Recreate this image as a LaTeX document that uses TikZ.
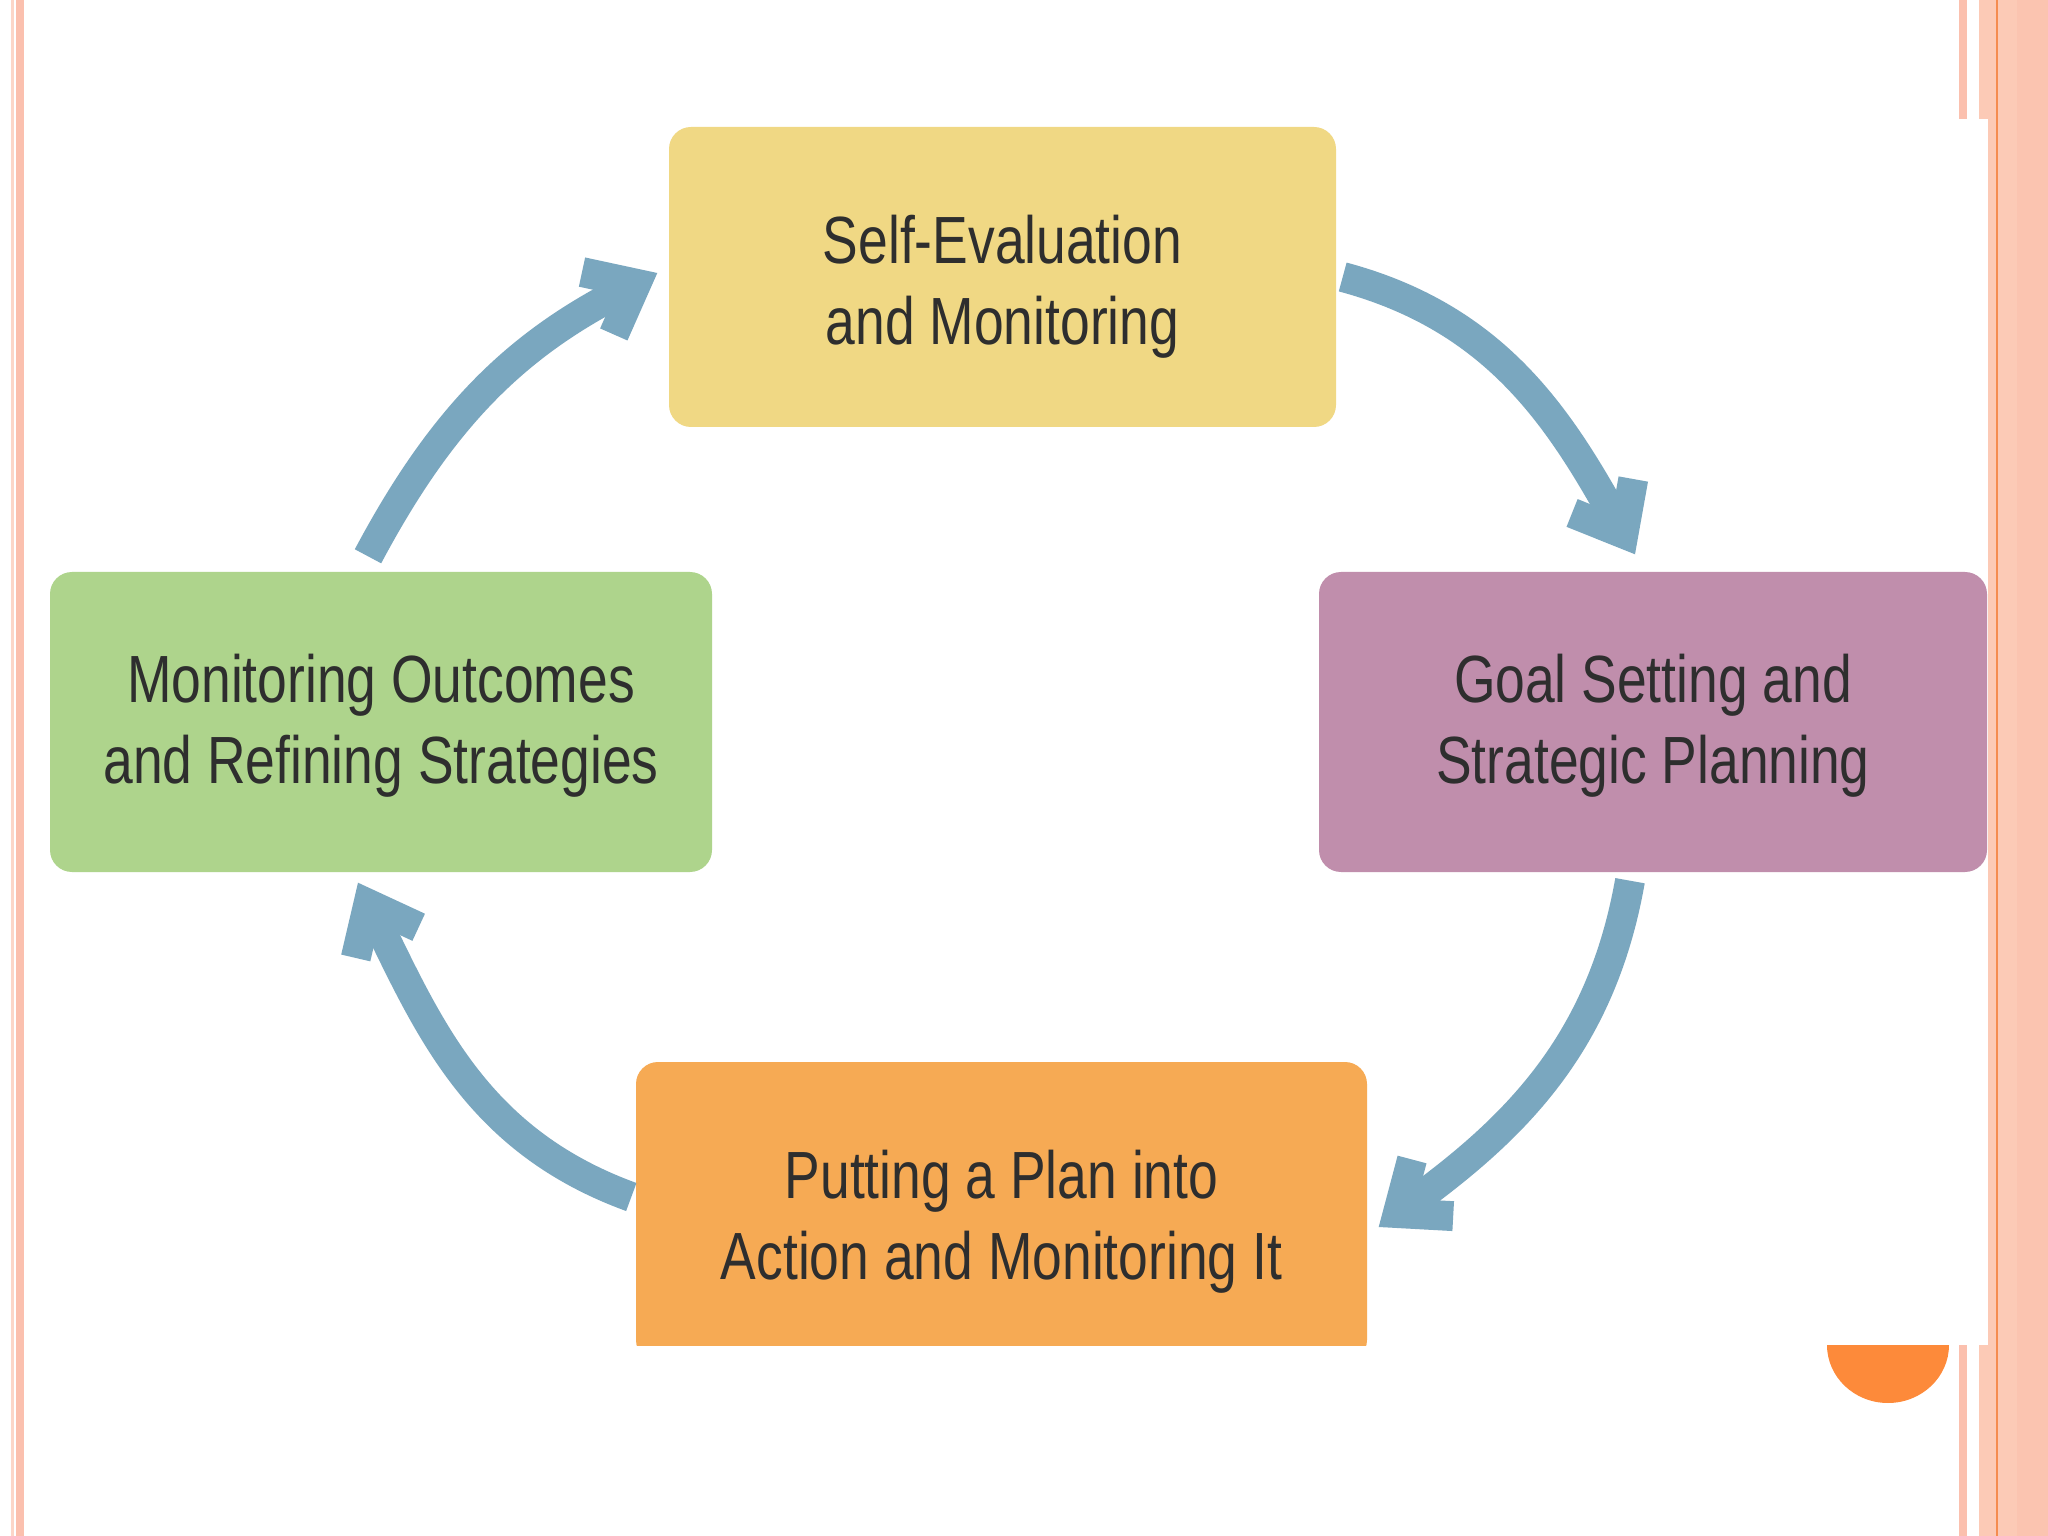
\documentclass[tikz,border=0pt]{standalone}
\usepackage{fontspec}
\usepackage{tikz}
\usetikzlibrary{arrows.meta,positioning}
\newfontfamily\boxfont[FakeStretch=0.8]{Liberation Sans}
\definecolor{cycleblue}{RGB}{122,167,191}
\definecolor{selfyellow}{RGB}{240,216,132}
\definecolor{goalmauve}{RGB}{192,142,172}
\definecolor{monitorgreen}{RGB}{174,212,140}
\definecolor{actionorange}{RGB}{246,170,84}
\definecolor{stripepink}{RGB}{251,192,174}
\definecolor{stripelight}{RGB}{252,214,200}
\definecolor{bandpeach}{RGB}{252,202,182}
\definecolor{bandpeachdark}{RGB}{251,196,176}
\definecolor{bandline}{RGB}{245,140,80}
\definecolor{dotorange}{RGB}{253,138,58}

\begin{document}
\begin{tikzpicture}[
  stage/.style={rectangle, rounded corners=2.2mm, minimum height=3cm, align=center, font=\boxfont\fontsize{19}{23}\selectfont, text=black!82, text height=35pt, text depth=0pt},
  cyc/.style={-{Straight Barb[length=4.3mm, width=7mm]}, line width=8.5pt, draw=cycleblue},
]
  \useasboundingbox (0,0) rectangle (20.48,-15.36);

  % slide frame
  \fill[stripelight] (0.11,0) rectangle (0.14,-15.36);
  \fill[stripepink] (0.16,0) rectangle (0.24,-15.36);
  \fill[stripepink] (19.59,0) rectangle (19.67,-15.36);
  \fill[bandpeach] (19.79,0) rectangle (20.48,-15.36);
  \fill[bandpeachdark] (20.17,0) rectangle (20.48,-15.36);
  \fill[bandline] (19.96,0) rectangle (19.98,-15.36);
  \fill[dotorange] (18.27,-13.45) arc (180:360:0.61 and 0.58) -- cycle;

  % pasted picture
  \fill[white] (0.3,-1.19) rectangle (19.88,-13.45);

  \begin{scope}
    \clip (0.3,-1.19) rectangle (19.88,-13.45);
    \node[stage, fill=selfyellow, minimum width=6.67cm, text height=38.5pt] (self) at (10.025,-2.77) {Self-Evaluation\\and Monitoring};
    \node[stage, fill=goalmauve, minimum width=6.68cm] (goal) at (16.53,-7.22) {Goal Setting and\\Strategic Planning};
    \node[stage, fill=actionorange, minimum width=7.31cm, text height=38.5pt] (action) at (10.015,-12.12) {Putting a Plan into\\Action and Monitoring It};
    \node[stage, fill=monitorgreen, minimum width=6.62cm] (monitor) at (3.81,-7.22) {Monitoring Outcomes\\and Refining Strategies};

    \draw[cyc] ([xshift=0.6mm]self.east) to[out=-15, in=119] ([xshift=-1.8mm, yshift=1.7mm]goal.north);
    \draw[cyc] ([xshift=-2.3mm, yshift=-0.8mm]goal.south) to[out=-100, in=36] ([xshift=1.1mm, yshift=-1.5mm]action.east);
    \draw[cyc] ([xshift=-0.4mm, yshift=1.5mm]action.west) to[out=160, in=-64] ([xshift=-2.3mm, yshift=-1mm]monitor.south);
    \draw[cyc] ([xshift=-1.3mm, yshift=1.5mm]monitor.north) to[out=62, in=-153] ([xshift=-1.1mm, yshift=0.4mm]self.west);
  \end{scope}
\end{tikzpicture}
\end{document}
